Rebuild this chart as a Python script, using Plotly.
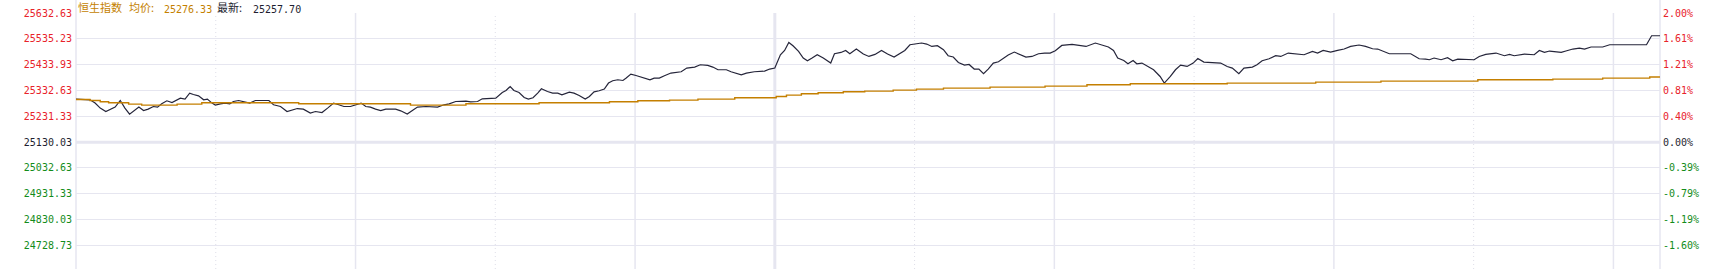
import plotly.graph_objects as go

# ---------------- data ----------------
PREV_CLOSE = 25130.03
STEP = 101.3
INDEX_NAME = "恒生指数"
AVG_LABEL = "均价:"
AVG_VALUE = "25276.33"
LAST_LABEL = "最新:"
LAST_VALUE = "25257.70"

price_labels = ["25632.63", "25535.23", "25433.93", "25332.63", "25231.33",
                "25130.03", "25032.63", "24931.33", "24830.03", "24728.73"]
pct_labels = ["2.00%", "1.61%", "1.21%", "0.81%", "0.40%",
              "0.00%", "-0.39%", "-0.79%", "-1.19%", "-1.60%"]
label_steps = [5, 4, 3, 2, 1, 0, -1, -2, -3, -4]

# minutes since 09:30 (lunch break removed), 340 = 16:10
price_t = [0.0, 2.3, 3.0, 4.1, 5.2, 6.4, 7.3, 8.4, 9.5, 10.5, 11.5, 12.5, 13.5, 14.5, 15.5, 16.6, 17.5, 18.4,
           19.5, 20.6, 21.7, 22.4, 23.4, 24.4, 25.2, 26.3, 27.4, 28.2, 29.2, 29.9, 31.0, 32.0, 33.0, 33.8,
           34.9, 36.0, 37.3, 38.5, 41.4, 42.4, 43.9, 45.3, 46.4, 47.5, 48.8, 50.3, 51.4, 52.8, 54.0, 55.3,
           56.4, 57.5, 58.9, 60.4, 61.2, 62.2, 63.2, 64.3, 65.4, 66.5, 68.6, 69.7, 71.1, 72.2, 73.3, 75.1,
           76.5, 77.6, 79.0, 80.1, 81.5, 83.7, 84.7, 86.2, 87.2, 90.1, 91.5, 92.3, 93.2, 94.0, 95.1, 96.2,
           97.1, 98.1, 99.1, 99.9, 101.2, 102.3, 103.4, 104.3, 105.9, 106.9, 108.0, 109.3, 110.2, 111.2,
           112.3, 113.4, 114.3, 115.2, 116.3, 117.4, 118.1, 119.1, 120.2, 122.0, 123.2, 124.1, 125.2, 126.3,
           127.7, 129.9, 131.1, 132.8, 134.0, 135.6, 136.7, 137.8, 139.6, 140.6, 142.8, 143.9, 145.6, 147.8,
           148.9, 150.0, 150.4, 151.2, 152.1, 153.0, 153.9, 155.1, 156.1, 157.0, 158.0, 159.1, 160.4, 162.0,
           162.8, 164.2, 165.2, 166.1, 167.5, 169.0, 170.2, 171.5, 172.9, 174.2, 175.6, 176.8, 177.9, 179.0,
           180.1, 181.5, 182.6, 183.7, 184.9, 186.2, 187.2, 188.3, 189.4, 190.7, 191.7, 192.8, 193.8, 194.8,
           195.8, 196.9, 198.0, 199.1, 200.1, 201.4, 202.6, 203.9, 205.2, 206.6, 207.9, 209.1, 210.2, 211.6,
           213.8, 215.5, 216.8, 218.8, 220.2, 221.6, 222.7, 223.6, 224.9, 225.8, 226.9, 227.7, 228.8, 229.9,
           231.3, 232.7, 233.6, 234.9, 236.0, 237.1, 238.5, 239.8, 240.8, 242.1, 243.5, 245.7, 247.1, 248.2,
           249.6, 250.7, 252.5, 253.5, 254.6, 256.1, 257.5, 258.6, 260.2, 261.8, 263.6, 265.4, 266.5, 267.7,
           269.3, 270.8, 272.2, 273.6, 275.4, 276.8, 278.3, 279.4, 280.8, 281.9, 286.5, 288.3, 289.7, 290.5,
           291.5, 293.0, 294.4, 295.5, 296.6, 298.3, 300.1, 301.2, 302.6, 304.8, 306.6, 307.7, 308.7, 310.9,
           313.0, 314.1, 315.2, 316.3, 318.8, 319.8, 321.3, 322.7, 323.8, 325.2, 327.7, 329.2, 337.1, 338.2,
           340.0]
price_v = [25298.9, 25298.9, 25296.1, 25283.2, 25263.5, 25250.2, 25256.8, 25267.4, 25293.4, 25263.5, 25240.0,
           25252.9, 25267.4, 25254.1, 25259.6, 25269.8, 25267.4, 25280.4, 25292.2, 25285.5, 25296.1, 25302.8,
           25298.9, 25322.4, 25316.9, 25311.8, 25296.1, 25298.9, 25283.2, 25275.3, 25280.4, 25283.2, 25280.4,
           25289.4, 25293.4, 25288.3, 25283.2, 25293.4, 25293.4, 25276.5, 25269.8, 25250.2, 25256.8, 25261.9,
           25259.6, 25243.9, 25250.2, 25246.2, 25263.5, 25283.2, 25276.5, 25269.8, 25269.8, 25277.7, 25283.2,
           25269.8, 25267.4, 25259.6, 25254.1, 25259.6, 25259.6, 25252.9, 25240.0, 25254.1, 25267.4, 25269.8,
           25269.8, 25267.4, 25276.5, 25280.4, 25289.4, 25291.0, 25288.3, 25289.4, 25300.0, 25302.8, 25324.8,
           25332.6, 25348.3, 25332.6, 25324.8, 25305.1, 25298.9, 25304.0, 25322.4, 25339.3, 25328.7, 25322.4,
           25322.4, 25315.7, 25326.4, 25322.4, 25313.0, 25298.9, 25309.1, 25327.5, 25331.5, 25338.1, 25361.7,
           25370.7, 25374.7, 25371.9, 25381.3, 25397.0, 25391.5, 25381.3, 25374.7, 25381.3, 25381.3, 25390.4,
           25401.0, 25406.1, 25420.6, 25424.5, 25433.6, 25430.8, 25424.5, 25413.9, 25413.9, 25406.1, 25394.3,
           25401.0, 25406.1, 25408.8, 25416.7, 25420.6, 25440.2, 25472.8, 25489.7, 25521.1, 25508.2, 25485.8,
           25459.9, 25449.3, 25459.9, 25472.8, 25459.9, 25440.2, 25476.8, 25481.9, 25489.7, 25476.8, 25495.2,
           25475.6, 25466.2, 25474.0, 25489.7, 25475.6, 25463.8, 25476.8, 25489.7, 25512.1, 25514.8, 25518.8,
           25514.8, 25505.4, 25508.2, 25492.5, 25468.9, 25463.8, 25442.6, 25432.4, 25434.7, 25416.7, 25416.7,
           25398.2, 25416.7, 25440.2, 25445.3, 25458.3, 25471.6, 25483.4, 25474.0, 25463.8, 25466.2, 25476.8,
           25479.5, 25479.5, 25488.5, 25509.4, 25513.3, 25509.4, 25505.4, 25518.8, 25512.1, 25503.1, 25489.7,
           25459.9, 25450.4, 25437.5, 25450.4, 25437.5, 25440.2, 25429.6, 25413.9, 25387.6, 25361.7, 25387.6,
           25413.9, 25432.4, 25426.9, 25440.2, 25458.3, 25444.2, 25442.6, 25440.2, 25426.9, 25420.6, 25398.2,
           25420.6, 25424.5, 25433.6, 25449.3, 25457.1, 25468.9, 25466.2, 25479.5, 25476.8, 25472.8, 25485.8,
           25479.5, 25489.7, 25483.4, 25489.7, 25495.2, 25505.4, 25510.9, 25505.4, 25496.4, 25495.2, 25485.8,
           25476.8, 25476.8, 25457.1, 25455.9, 25453.2, 25459.9, 25453.2, 25461.0, 25449.3, 25455.9, 25455.9,
           25453.2, 25466.2, 25474.0, 25479.5, 25468.9, 25474.0, 25468.9, 25475.6, 25472.8, 25489.7, 25481.9,
           25487.4, 25481.9, 25487.4, 25495.2, 25499.1, 25495.2, 25503.1, 25503.1, 25512.1, 25512.1, 25547.4,
           25547.4]

avg_t = [0.0, 3.0, 5.2, 7.0, 11.3, 14.1, 21.7, 27.0, 47.8, 71.8, 83.7, 99.4, 114.5, 120.6, 127.4, 133.5,
         141.4, 150.3, 152.5, 155.7, 159.3, 164.7, 169.3, 175.4, 180.4, 186.2, 196.2, 208.0, 217.0, 226.3,
         247.1, 266.1, 280.1, 300.9, 317.0, 327.7, 337.8, 340.0]
avg_v = [25297.3, 25293.4, 25288.3, 25284.3, 25279.2, 25275.3, 25279.2, 25284.3, 25280.4, 25275.3, 25280.4,
         25284.3, 25288.3, 25292.2, 25294.9, 25298.9, 25304.0, 25309.1, 25314.6, 25319.7, 25323.6, 25327.5,
         25330.3, 25334.2, 25338.1, 25342.1, 25346.0, 25349.9, 25355.0, 25358.9, 25361.7, 25365.6, 25369.5,
         25374.7, 25377.4, 25381.3, 25385.3, 25385.3]

# half-hour grid marks (minutes since open) and their line style
grid_minutes = [30, 60, 90, 120, 150, 180, 210, 240, 270, 300, 330]
grid_styles = ["dot", "solid", "dot", "solid", "thick", "dot", "solid", "dot", "solid", "dot", "solid"]
SESSION_END = 340

# ---------------- style ----------------
RED = "#e8222a"
GREEN = "#138c1a"
DARK = "#1e1e30"
ORANGE = "#c47f00"
GRID = "#e6e6f0"
MONO = "DejaVu Sans Mono, Liberation Mono, monospace"
CJK = "Noto Sans CJK SC"

W, H = 1711, 269
L, R, T, B = 76, 51, 13, 0
plot_h = H - T - B

tickvals = [PREV_CLOSE + k * STEP for k in label_steps]
top = PREV_CLOSE + 5 * STEP
px_per_pt = (25.8 / STEP)
bottom = PREV_CLOSE - (269 - 142.3) / px_per_pt


def col(k):
    return RED if k > 0 else (DARK if k == 0 else GREEN)


left_text = [f'<span style="color:{col(k)}">{t}</span>' for k, t in zip(label_steps, price_labels)]
right_text = [f'<span style="color:{col(k)}">{t}</span>' for k, t in zip(label_steps, pct_labels)]

fig = go.Figure()
fig.add_trace(go.Scatter(x=price_t, y=price_v, mode="lines",
                         line=dict(color="#25253a", width=1.2), hoverinfo="skip", showlegend=False))
fig.add_trace(go.Scatter(x=avg_t, y=avg_v, mode="lines", yaxis="y2",
                         line=dict(color=ORANGE, width=1.4, shape="hv"), hoverinfo="skip", showlegend=False))

shapes = []
shapes.append(dict(type="line", xref="paper", x0=0, x1=1, yref="y", y0=PREV_CLOSE, y1=PREV_CLOSE,
                   line=dict(color=GRID, width=3), layer="below"))
for m, s in zip(grid_minutes, grid_styles):
    if s == "dot":
        ln = dict(color="#dedee8", width=1, dash="1px,3px")
    elif s == "thick":
        ln = dict(color=GRID, width=3)
    else:
        ln = dict(color=GRID, width=1.5)
    shapes.append(dict(type="line", xref="x", x0=m, x1=m, yref="paper", y0=0, y1=1, line=ln, layer="below"))
for xp in (0, 1):
    shapes.append(dict(type="line", xref="paper", x0=xp, x1=xp, yref="paper", y0=0, y1=1 + T / plot_h,
                       line=dict(color=GRID, width=1.5), layer="below"))

# header pieces: (text, offset from plot left in px, font family, size, colour)
header_parts = [
    (INDEX_NAME, 1, CJK, 11, ORANGE),
    (AVG_LABEL, 52, CJK, 11, ORANGE),
    (AVG_VALUE, 86.5, MONO, 10, ORANGE),
    (LAST_LABEL, 140, CJK, 11, DARK),
    (LAST_VALUE, 175.5, MONO, 10, DARK),
]
annotations = [dict(text=t, xref="paper", yref="paper", x=0, y=1, xanchor="left", yanchor="bottom",
                    xshift=dx, yshift=-3, showarrow=False, borderpad=0,
                    font=dict(family=fam, size=sz, color=c))
               for t, dx, fam, sz, c in header_parts]

fig.update_layout(
    width=W, height=H,
    margin=dict(l=L, r=R, t=T, b=B, pad=0),
    paper_bgcolor="white", plot_bgcolor="white",
    showlegend=False,
    xaxis=dict(range=[0, SESSION_END], showgrid=False, zeroline=False, showticklabels=False,
               showline=False, ticks="", fixedrange=True),
    yaxis=dict(range=[bottom, top], tickvals=tickvals, ticktext=left_text, showgrid=True, gridcolor=GRID,
               gridwidth=1, zeroline=False, showline=False, ticks="", ticklabelstandoff=3,
               tickfont=dict(family=MONO, size=10, color=DARK)),
    yaxis2=dict(overlaying="y", side="right", matches="y", tickvals=tickvals, ticktext=right_text,
                showgrid=False, zeroline=False, showline=False, ticks="", ticklabelstandoff=2,
                tickfont=dict(family=MONO, size=10, color=DARK)),
    shapes=shapes,
    annotations=annotations,
)

fig.write_html("out.html")
